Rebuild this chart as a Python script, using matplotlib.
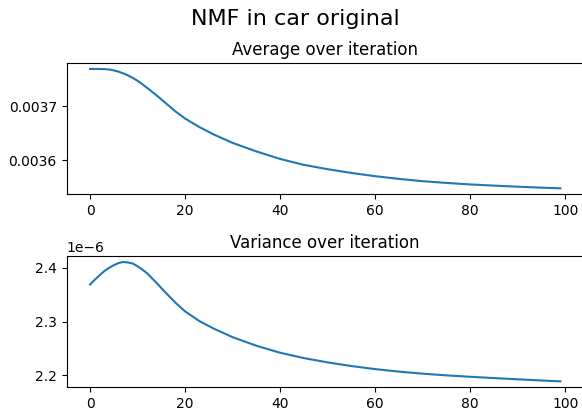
import matplotlib
matplotlib.use("Agg")
from matplotlib import pyplot as plt

# iterations at which the curves were sampled
iters = [0, 1, 2, 3, 4, 5, 6, 7, 8, 9, 10, 11, 12, 13, 14, 16, 18, 20, 23,
         26, 30, 35, 40, 45, 50, 55, 60, 65, 70, 75, 80, 85, 90, 95, 99]

# mean of the reconstruction per iteration
avg_vals = [0.0037690, 0.0037690, 0.0037690, 0.0037687, 0.0037680,
            0.0037663, 0.0037640, 0.0037608, 0.0037570, 0.0037523,
            0.0037470, 0.0037407, 0.0037340, 0.0037270, 0.0037200,
            0.0037050, 0.0036900, 0.0036770, 0.0036612, 0.0036475,
            0.0036318, 0.0036160, 0.0036020, 0.0035910, 0.0035830,
            0.0035760, 0.0035700, 0.0035650, 0.0035607, 0.0035575,
            0.0035547, 0.0035525, 0.0035505, 0.0035487, 0.0035475]

# variance per iteration (units of 1e-6)
var_vals = [2.369, 2.378, 2.386, 2.394, 2.400, 2.405, 2.409, 2.411, 2.410,
            2.408, 2.403, 2.397, 2.390, 2.381, 2.372, 2.353, 2.335, 2.319,
            2.301, 2.287, 2.271, 2.255, 2.242, 2.232, 2.224, 2.2172, 2.2115,
            2.2068, 2.2030, 2.1998, 2.1972, 2.1948, 2.1925, 2.1903, 2.1887]
var_vals = [v * 1e-6 for v in var_vals]

fig = plt.figure(figsize=(5.82, 4.17), dpi=100)
# right spines sit just past the edge of the canvas
ax1 = fig.add_axes([0.1143, 0.5341, 0.8890, 0.3149])
ax2 = fig.add_axes([0.1143, 0.0712, 0.8890, 0.3149])

fig.text(0.507, 0.940, 'NMF in car original', fontsize=16,
         ha='center', va='baseline')

ax1.plot(iters, avg_vals)
ax1.set_title('Average over iteration')

ax2.plot(iters, var_vals)
ax2.set_title('Variance over iteration')

fig.savefig('out.png', dpi=100)
